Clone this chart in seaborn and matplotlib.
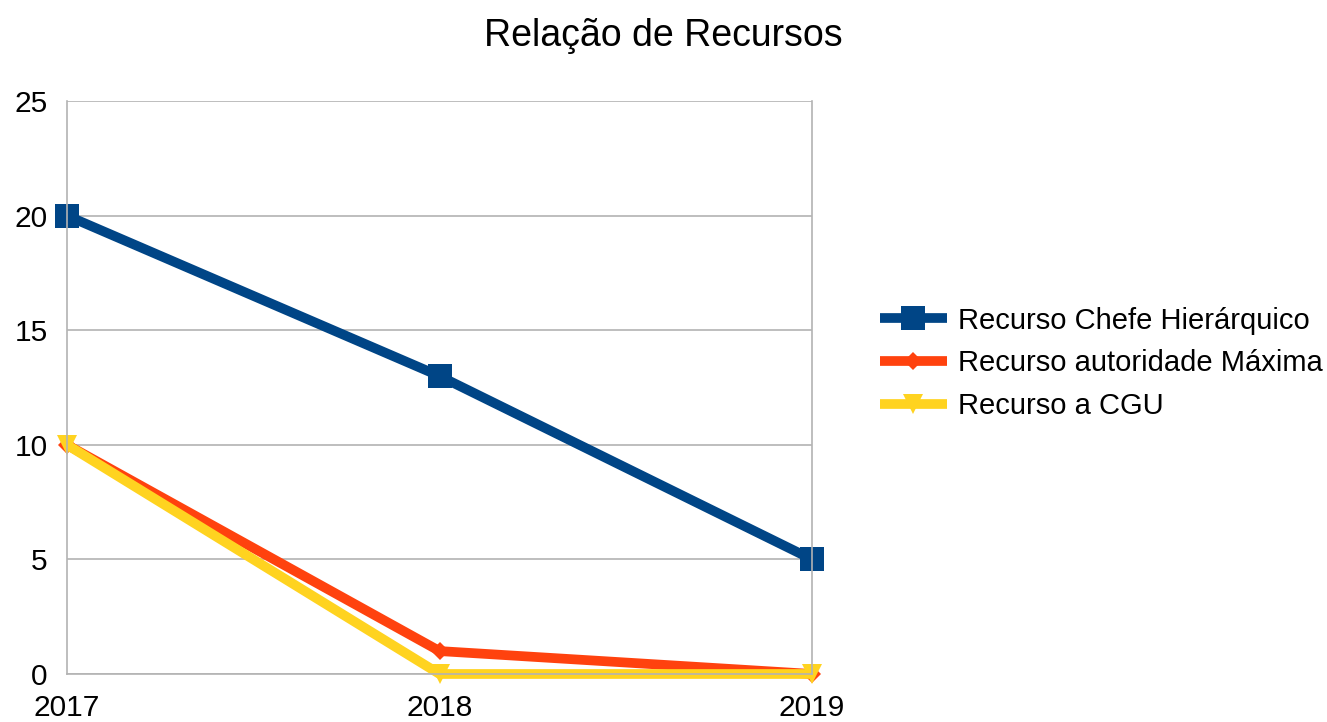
import pandas as pd
import matplotlib.pyplot as plt
import seaborn as sns

anos = [2017, 2018, 2019]
chefe = [20, 13, 5]
maxima = [10, 1, 0]
cgu = [10, 0, 0]
series = ['Recurso Chefe Hierárquico', 'Recurso autoridade Máxima', 'Recurso a CGU']

df = pd.DataFrame({
    'ano': anos * 3,
    'valor': chefe + maxima + cgu,
    'serie': [series[0]] * 3 + [series[1]] * 3 + [series[2]] * 3,
})

sns.set_style('white')
plt.rcParams['font.family'] = ['Liberation Sans', 'DejaVu Sans']
plt.rcParams['text.color'] = 'black'

cores = {series[0]: '#004586', series[1]: '#ff420e', series[2]: '#ffd320'}
marcas = {series[0]: 's', series[1]: 'D', series[2]: 'v'}
tamanhos = {series[0]: 17, series[1]: 9, series[2]: 15}

fig = plt.figure(figsize=(13.27, 7.22), dpi=100)
ax = fig.add_axes([0.0505, 0.0665, 0.5615, 0.7935])

sns.lineplot(data=df, x='ano', y='valor', hue='serie', style='serie',
             markers=marcas, dashes=False, palette=cores, linewidth=7,
             markeredgewidth=0, ax=ax, legend=False)

for line, s in zip(ax.get_lines(), series):
    line.set_markersize(tamanhos[s])
    line.set_clip_on(False)
    line.set_solid_capstyle('butt')

ax.set_xlim(2017, 2019)
ax.set_ylim(0, 25)
ax.set_xticks(anos)
ax.set_yticks([0, 5, 10, 15, 20, 25])
ax.yaxis.grid(True, color='#b3b3b3', linewidth=1.2)
ax.set_axisbelow(True)
for lado in ['left', 'right', 'bottom']:
    ax.spines[lado].set_color('#b3b3b3')
    ax.spines[lado].set_linewidth(1.2)
ax.spines['top'].set_visible(False)
ax.tick_params(axis='both', length=9, width=1.2, color='#b3b3b3',
               labelsize=21.5, labelcolor='black', direction='out')
ax.tick_params(axis='x', pad=5.5)
ax.tick_params(axis='y', pad=5)
ax.set_xlabel('')
ax.set_ylabel('')

fig.suptitle('Relação de Recursos', fontsize=27, y=0.975)

handles = []
for s in series:
    h = plt.Line2D([], [], color=cores[s], marker=marcas[s], linewidth=7,
                   markersize=tamanhos[s], markeredgewidth=0)
    h.set_solid_capstyle('butt')
    handles.append(h)
fig.legend(handles, series, loc='center left', bbox_to_anchor=(0.643, 0.497),
           frameon=False, fontsize=21, handlelength=2.3, labelspacing=0.5,
           handletextpad=0.4)

fig.savefig('out.png', dpi=100)
